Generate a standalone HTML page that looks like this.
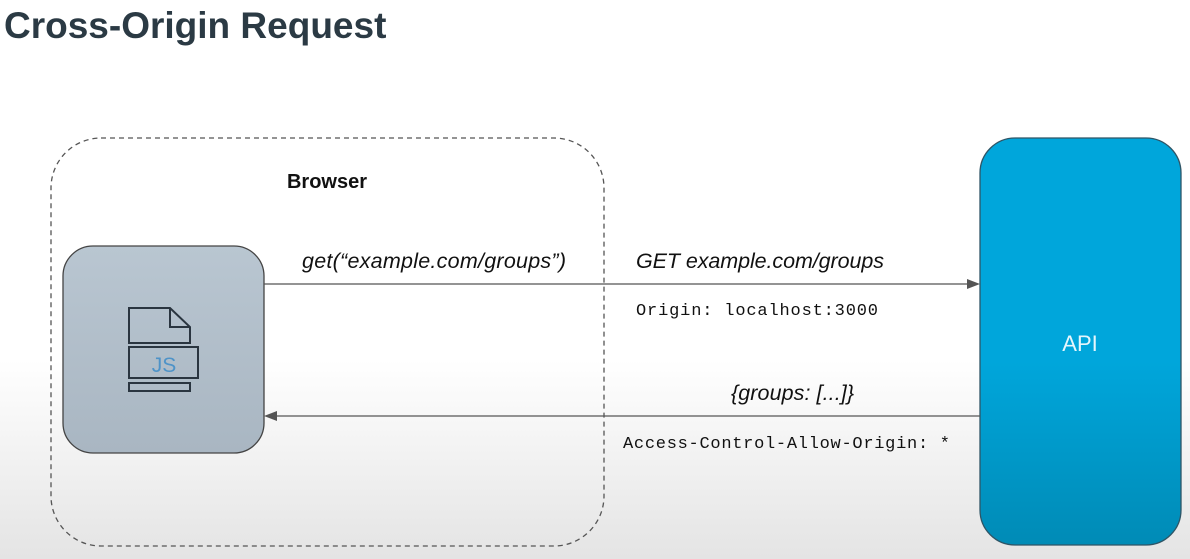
<!DOCTYPE html>
<html><head><meta charset="utf-8"><style>
body{margin:0;width:1190px;height:559px;overflow:hidden;background:linear-gradient(#fff 0,#fff 360px,#e4e4e4 559px);}
svg{position:absolute;left:0;top:0}
</style></head><body>
<svg width="1190" height="559" xmlns="http://www.w3.org/2000/svg">
<defs>
<linearGradient id="g1" x1="0" y1="0" x2="0" y2="1"><stop offset="0" stop-color="#b9c6d1"/><stop offset="1" stop-color="#a9b6c2"/></linearGradient>
<linearGradient id="g2" x1="0" y1="0" x2="0" y2="1"><stop offset="0" stop-color="#00a6db"/><stop offset="0.55" stop-color="#00a6db"/><stop offset="1" stop-color="#008bb6"/></linearGradient>
</defs>
<text x="4" y="38" font-family="Liberation Sans, sans-serif" font-weight="bold" font-size="37" fill="#2b3a44">Cross-Origin Request</text>
<rect x="51" y="138" width="553" height="408" rx="50" fill="none" stroke="#555" stroke-width="1.3" stroke-dasharray="5,4"/>
<text x="327" y="188" text-anchor="middle" font-family="Liberation Sans, sans-serif" font-weight="bold" font-size="20" fill="#111">Browser</text>
<rect x="63" y="246" width="201" height="207" rx="30" fill="url(#g1)" stroke="#444" stroke-width="1.3"/>
<g fill="none" stroke="#2a3540" stroke-width="2">
<path d="M129 308 H170 L190 327 V343 H129Z"/>
<path d="M170 308 V327 H190"/>
<rect x="129" y="347" width="69" height="31"/>
<rect x="129" y="383" width="61" height="8"/>
</g>
<text x="164" y="372" text-anchor="middle" font-family="Liberation Sans, sans-serif" font-size="21" fill="#4e93c8">JS</text>
<rect x="980" y="138" width="201" height="407" rx="35" fill="url(#g2)" stroke="#2f5566" stroke-width="1.3"/>
<text x="1080" y="351" text-anchor="middle" font-family="Liberation Sans, sans-serif" font-size="22" fill="#e6f6fc">API</text>
<line x1="264" y1="284" x2="968" y2="284" stroke="#555" stroke-width="1.3"/>
<path d="M980 284 L967 279 V289Z" fill="#555"/>
<line x1="276" y1="416" x2="980" y2="416" stroke="#555" stroke-width="1.3"/>
<path d="M264 416 L277 411 V421Z" fill="#555"/>
<text x="302" y="268" textLength="264" font-family="Liberation Sans, sans-serif" font-style="italic" font-size="21.5" fill="#111">get(“example.com/groups”)</text>
<text x="636" y="268" textLength="248" font-family="Liberation Sans, sans-serif" font-style="italic" font-size="21.5" fill="#111">GET example.com/groups</text>
<text x="636" y="315" textLength="242" font-family="Liberation Mono, monospace" font-size="17" fill="#111">Origin: localhost:3000</text>
<text x="731" y="400" textLength="123" font-family="Liberation Sans, sans-serif" font-style="italic" font-size="21.5" fill="#111">{groups: [...]}</text>
<text x="623" y="448" textLength="327" font-family="Liberation Mono, monospace" font-size="17" fill="#111">Access-Control-Allow-Origin: *</text>
</svg>
</body></html>
